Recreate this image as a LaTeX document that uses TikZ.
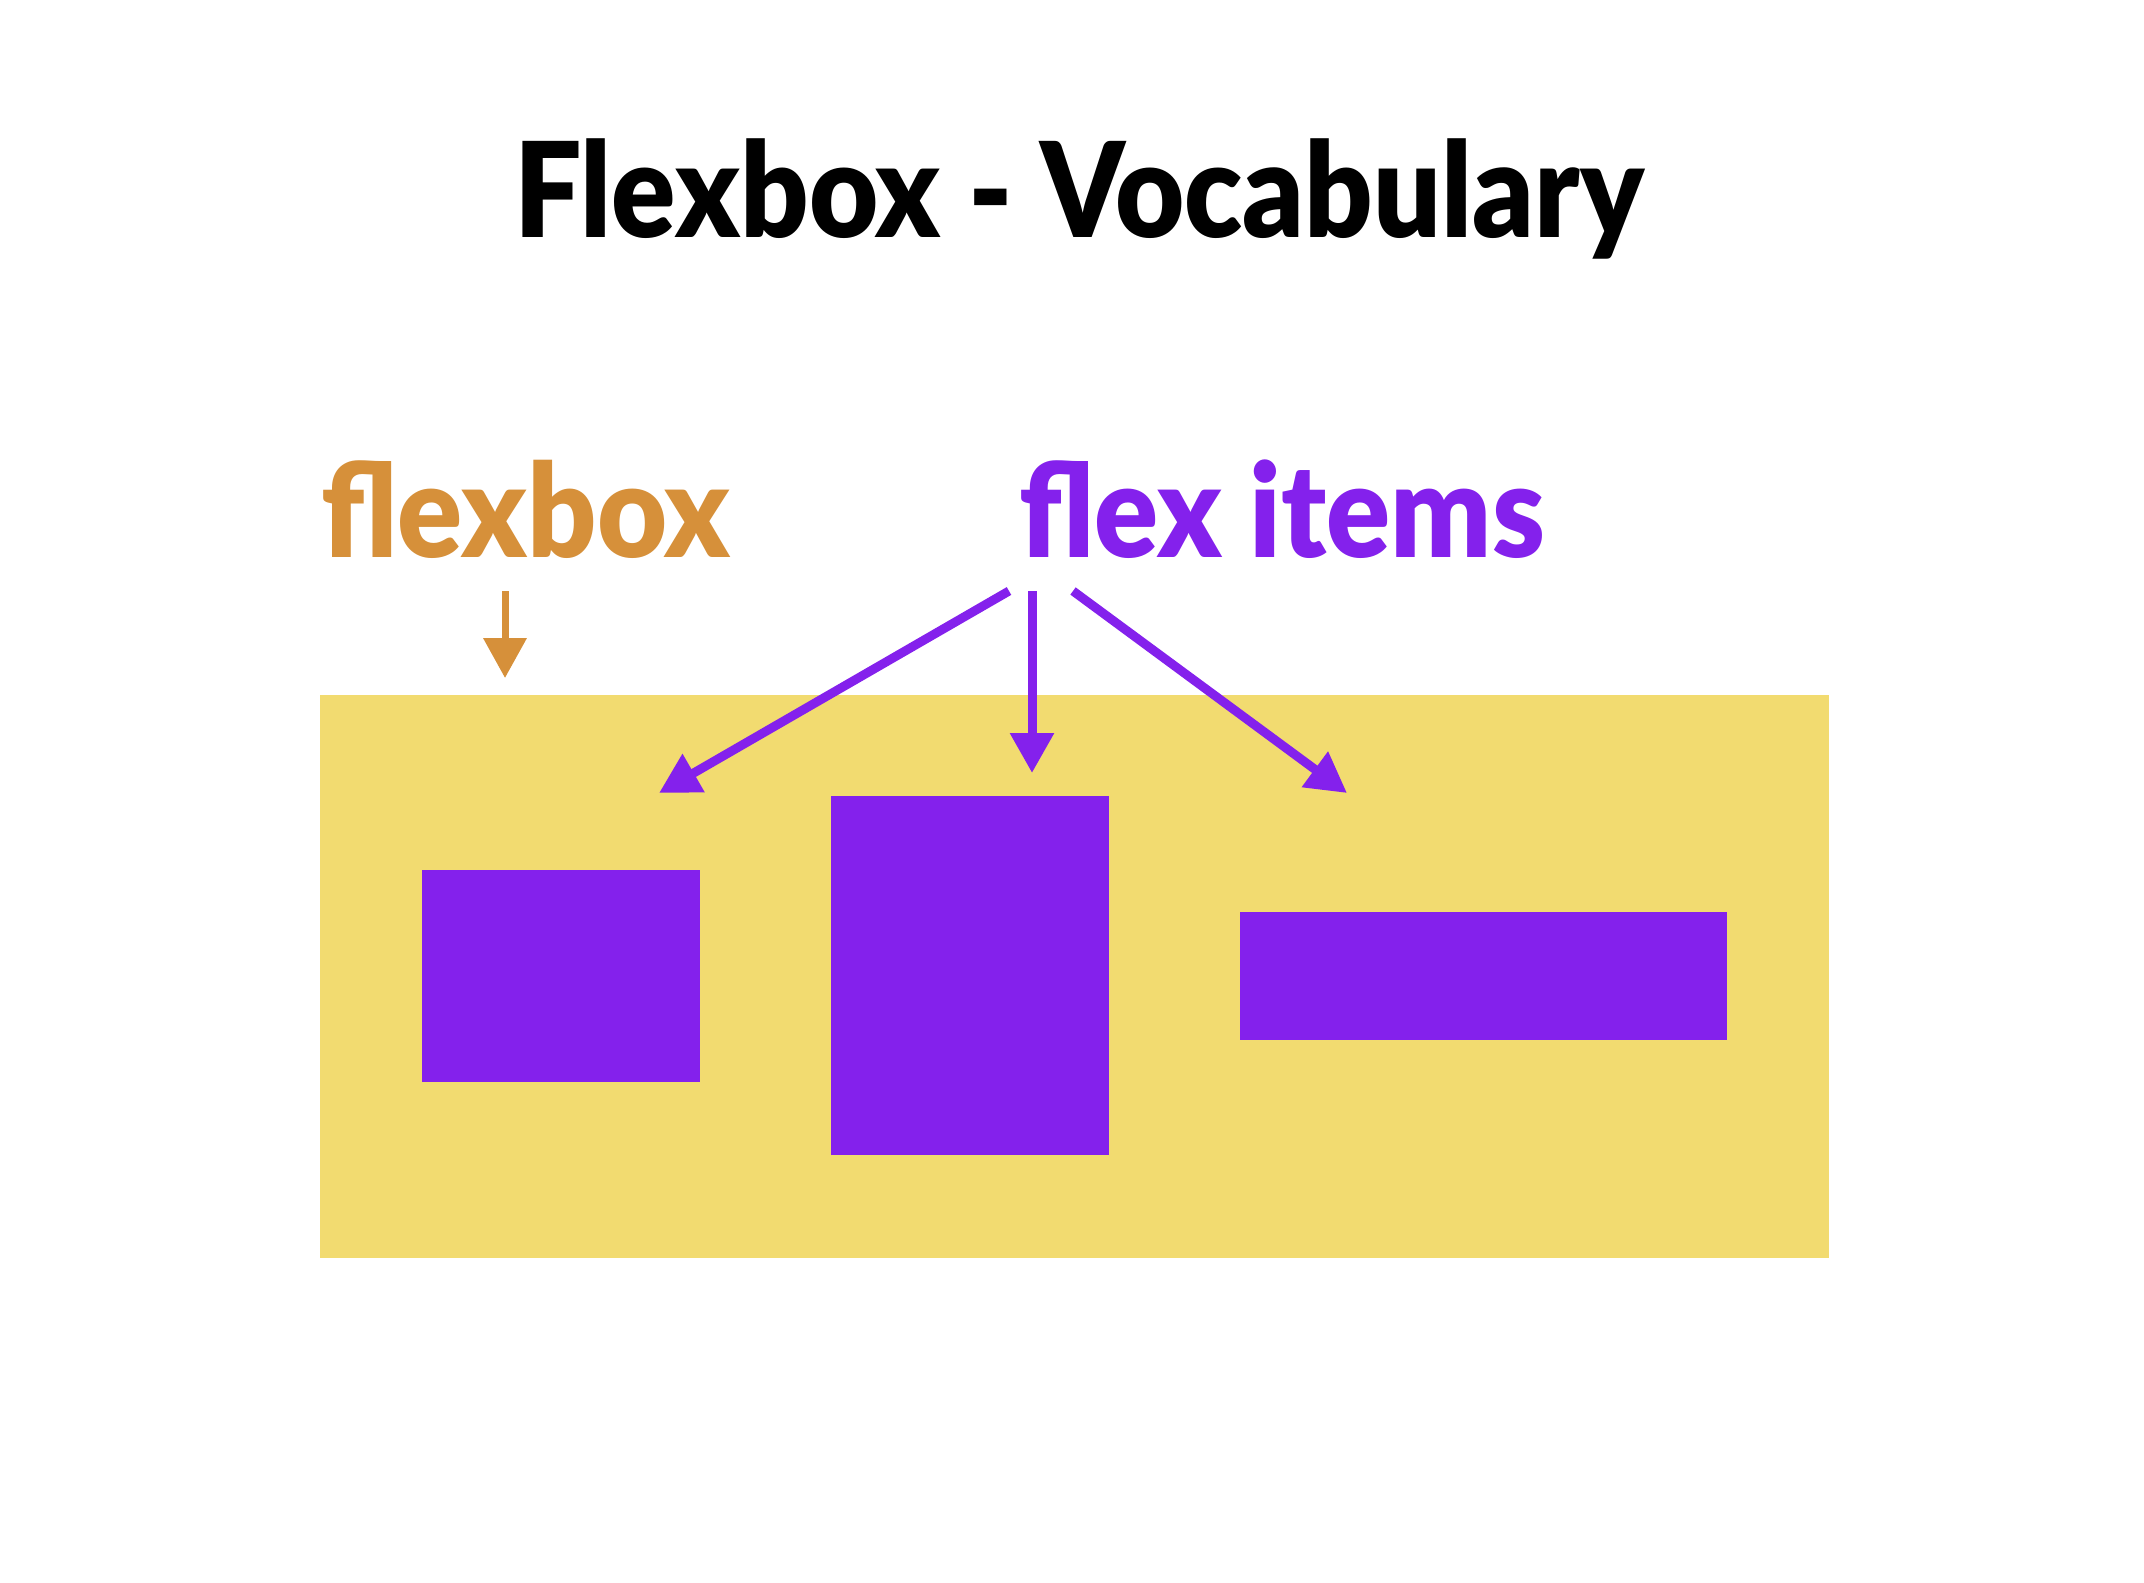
\documentclass[tikz,border=0pt]{standalone}
\usepackage{fontspec}
\usetikzlibrary{arrows.meta}
\newfontfamily\tfont{Lato Black}
\definecolor{flexorange}{HTML}{D6903A}
\definecolor{flexpurple}{HTML}{8421EC}
\definecolor{flexyellow}{HTML}{F2DB70}
\begin{document}
\begin{tikzpicture}[x=1pt,y=-1pt,
  boxbase/.style={anchor=north west, inner sep=0pt, outer sep=0pt, draw=none},
  itembox/.style={boxbase, fill=flexpurple},
  containerbox/.style={boxbase, fill=flexyellow},
  labeltext/.style={anchor=base west, inner sep=0pt, font=\tfont\fontsize{130}{140}\selectfont},
  purplearrow/.style={draw=flexpurple, line width=9pt, -{Triangle[length=40pt,width=42pt]}},
  orangearrow/.style={draw=flexorange, line width=7pt, -{Triangle[length=40pt,width=42pt]}}]
\fill[white] (0,0) rectangle (2144,1582);
\useasboundingbox (0,0) rectangle (2144,1582);
% title
\node[anchor=base, inner sep=0pt, font=\tfont\fontsize{132}{140}\selectfont] (title) at (1079,237) {\scalebox{0.905}[1]{Flexbox - Vocabulary}};
% container and items
\node[containerbox, minimum width=1509pt, minimum height=563pt] (container) at (320,695) {};
\node[itembox, minimum width=278pt, minimum height=212pt] (box1) at (422,870) {};
\node[itembox, minimum width=278pt, minimum height=359pt] (box2) at (831,796) {};
\node[itembox, minimum width=487pt, minimum height=128pt] (box3) at (1240,912) {};
% labels
\node[labeltext, text=flexorange] (flexlabel) at (321,557) {\scalebox{0.93}[1]{flexbox}};
\node[labeltext, text=flexpurple] (itemslabel) at (1019,557) {\scalebox{0.915}[1]{flex items}};
% arrows
\coordinate (fbstart) at (505,591);
\coordinate (fbtip) at (505,678);
\draw[orangearrow] (fbstart) -- (fbtip);
\coordinate (lstart) at (1009,591);
\coordinate (ltip) at (659,793);
\coordinate (mstart) at (1032,591);
\coordinate (mtip) at (1032,773);
\coordinate (rstart) at (1073,591);
\coordinate (rtip) at (1347,793);
\draw[purplearrow] (lstart) -- (ltip);
\draw[purplearrow] (mstart) -- (mtip);
\draw[purplearrow] (rstart) -- (rtip);
\end{tikzpicture}
\end{document}
